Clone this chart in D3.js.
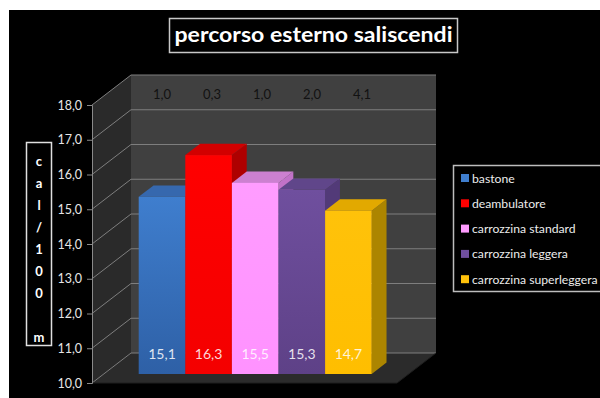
<!DOCTYPE html>
<html>
<head>
<meta charset="utf-8">
<script src="https://cdn.jsdelivr.net/npm/d3@7"></script>
<style>
  html, body { margin: 0; padding: 0; background: #fff; }
  svg { display: block; font-family: Lato, Carlito, "Open Sans", sans-serif; }
</style>
</head>
<body>
<svg id="chart" width="600" height="398"></svg>
<script>
// Series (one bar per mobility aid)
const series = ["bastone", "deambulatore", "carrozzina standard", "carrozzina leggera", "carrozzina superleggera"];
const values = [15.1, 16.3, 15.5, 15.3, 14.7];
const spread = ["1,0", "0,3", "1,0", "2,0", "4,1"];
const yTicks = [10, 11, 12, 13, 14, 15, 16, 17, 18];
const unitLetters = ["c", "a", "l", "/", "1", "0", "0", " ", "m"];

// Face colours: [front top, front bottom, top face, side face]
const palette = [
  ["#3f7ece", "#2e60a6", "#3668ae", "#2a5591"],
  ["#ff0000", "#f40000", "#d20000", "#ae0000"],
  ["#ff9cff", "#ff92ff", "#cc80d0", "#c272c8"],
  ["#6f4f9e", "#5e4187", "#60468a", "#523a78"],
  ["#ffc20a", "#ffbe00", "#e2a900", "#ac8500"]
];

const svg = d3.select("#chart");
const fmt = d3.formatLocale({decimal: ",", thousands: ".", grouping: [3], currency: ["", "€"]}).format(".1f");

// white page margin, black chart area
svg.append("rect").attr("x", 9).attr("y", 10).attr("width", 591).attr("height", 388).attr("fill", "#000");

// 3-D projection: front plane plus depth offset
const DX = 39, DY = -30;
const y = d3.scaleLinear().domain([10, 18]).range([383, 105]);
const xFront = d3.scaleBand().domain(series).range([127, 360]).padding(0);
const plotL = 92, plotR = 397;
const P = (xf, v, f) => [xf + f * DX, y(v) + f * DY];
const poly = pts => "M" + pts.map(p => p.join(",")).join("L") + "Z";

const g = svg.append("g");

// left wall
g.append("path").attr("d", poly([P(plotL, 10, 0), P(plotL, 10, 1), P(plotL, 18, 1), P(plotL, 18, 0)]))
  .attr("fill", "#2a2a2a");
// back wall
g.append("path").attr("d", poly([P(plotL, 10, 1), P(plotR, 10, 1), P(plotR, 18, 1), P(plotL, 18, 1)]))
  .attr("fill", "#404040");
// floor
g.append("path").attr("d", poly([P(plotL, 10, 0), P(plotR, 10, 0), P(plotR, 10, 1), P(plotL, 10, 1)]))
  .attr("fill", "#2b2b2b");

// gridlines on back wall and left wall
yTicks.forEach(t => {
  const a = P(plotL, t, 0), b = P(plotL, t, 1), c = P(plotR, t, 1);
  g.append("path").attr("d", `M${a}L${b}L${c}`).attr("fill", "none")
    .attr("stroke", "#7e7e7e").attr("stroke-width", 1);
});
// floor outline
g.append("path").attr("d", `M${P(plotL, 10, 0)}L${P(plotR, 10, 0)}L${P(plotR, 10, 1)}`)
  .attr("fill", "none").attr("stroke", "#1e1e1e").attr("stroke-width", 1);

// value axis on the front plane
const axis = d3.axisLeft(y).tickValues(yTicks).tickSize(5).tickPadding(5).tickFormat(fmt);
const ax = svg.append("g").attr("transform", `translate(${plotL},0)`).call(axis);
ax.select(".domain").attr("stroke", "#8a8a8a");
ax.selectAll(".tick line").attr("stroke", "#8a8a8a");
ax.selectAll(".tick text").attr("fill", "#e6e6e6").attr("font-size", 12.5).attr("font-family", "Lato, Carlito, sans-serif");

// bars
const f0 = 0.3, f1 = 0.68;
const defs = svg.append("defs");
series.forEach((s, i) => {
  const gr = defs.append("linearGradient").attr("id", "grad" + i)
    .attr("x1", 0).attr("y1", 0).attr("x2", 0).attr("y2", 1);
  gr.append("stop").attr("offset", 0).attr("stop-color", palette[i][0]);
  gr.append("stop").attr("offset", 1).attr("stop-color", palette[i][1]);
});

const bars = svg.append("g");
series.forEach((s, i) => {
  const v = values[i];
  const xl = xFront(s), xr = xl + xFront.bandwidth();
  const bg = bars.append("g");
  // side face
  bg.append("path").attr("d", poly([P(xr, 10, f0), P(xr, 10, f1), P(xr, v, f1), P(xr, v, f0)]))
    .attr("fill", palette[i][3]);
  // top face
  bg.append("path").attr("d", poly([P(xl, v, f0), P(xr, v, f0), P(xr, v, f1), P(xl, v, f1)]))
    .attr("fill", palette[i][2]);
  // front face
  const a = P(xl, v, f0), b = P(xr, 10, f0);
  bg.append("rect").attr("x", a[0]).attr("y", a[1]).attr("width", b[0] - a[0]).attr("height", b[1] - a[1])
    .attr("fill", `url(#grad${i})`);
  // value label
  bg.append("text").attr("x", (a[0] + b[0]) / 2).attr("y", b[1] - 21)
    .attr("text-anchor", "middle").attr("dominant-baseline", "central")
    .attr("font-size", 14).attr("fill", "#ffffff").attr("fill-opacity", 0.85)
    .text(fmt(v));
});

// spread labels along the top of the back wall
const xTop = d3.scalePoint().domain(series).range([162, 362]);
svg.append("g").selectAll("text").data(series).join("text")
  .attr("x", d => xTop(d)).attr("y", 94)
  .attr("text-anchor", "middle").attr("dominant-baseline", "central")
  .attr("font-size", 13).attr("fill", "#121212")
  .text((d, i) => spread[i]);

// title
svg.append("rect").attr("x", 169.5).attr("y", 18.5).attr("width", 288).attr("height", 34)
  .attr("fill", "#000").attr("stroke", "#c8c8c8").attr("stroke-width", 1.5);
svg.append("text").attr("x", 313.5).attr("y", 42).attr("text-anchor", "middle")
  .attr("font-size", 20).attr("font-weight", "bold").attr("fill", "#ffffff")
  .attr("textLength", 278).attr("lengthAdjust", "spacingAndGlyphs")
  .text("percorso esterno saliscendi");

// unit label, stacked vertically
svg.append("rect").attr("x", 26.5).attr("y", 142.5).attr("width", 25).attr("height", 203)
  .attr("fill", "#000").attr("stroke", "#e0e0e0").attr("stroke-width", 1.5);
svg.append("g").selectAll("text").data(unitLetters).join("text")
  .attr("x", 39).attr("y", (d, i) => 161 + i * 22)
  .attr("text-anchor", "middle").attr("dominant-baseline", "central")
  .attr("font-size", 13).attr("font-weight", "bold").attr("fill", "#ffffff")
  .text(d => d);

// legend
svg.append("rect").attr("x", 453.5).attr("y", 165.5).attr("width", 160).attr("height", 126)
  .attr("fill", "#000").attr("stroke", "#bdbdbd").attr("stroke-width", 1.5);
const lg = svg.append("g").selectAll("g").data(series).join("g")
  .attr("transform", (d, i) => `translate(461, ${178 + i * 25.3})`);
lg.append("rect").attr("x", 0).attr("y", -4).attr("width", 8).attr("height", 8)
  .attr("fill", (d, i) => palette[i][0]);
lg.append("text").attr("x", 11).attr("y", 0).attr("dominant-baseline", "central")
  .attr("font-size", 12.2).attr("fill", "#ececec").text(d => d);
</script>
</body>
</html>
